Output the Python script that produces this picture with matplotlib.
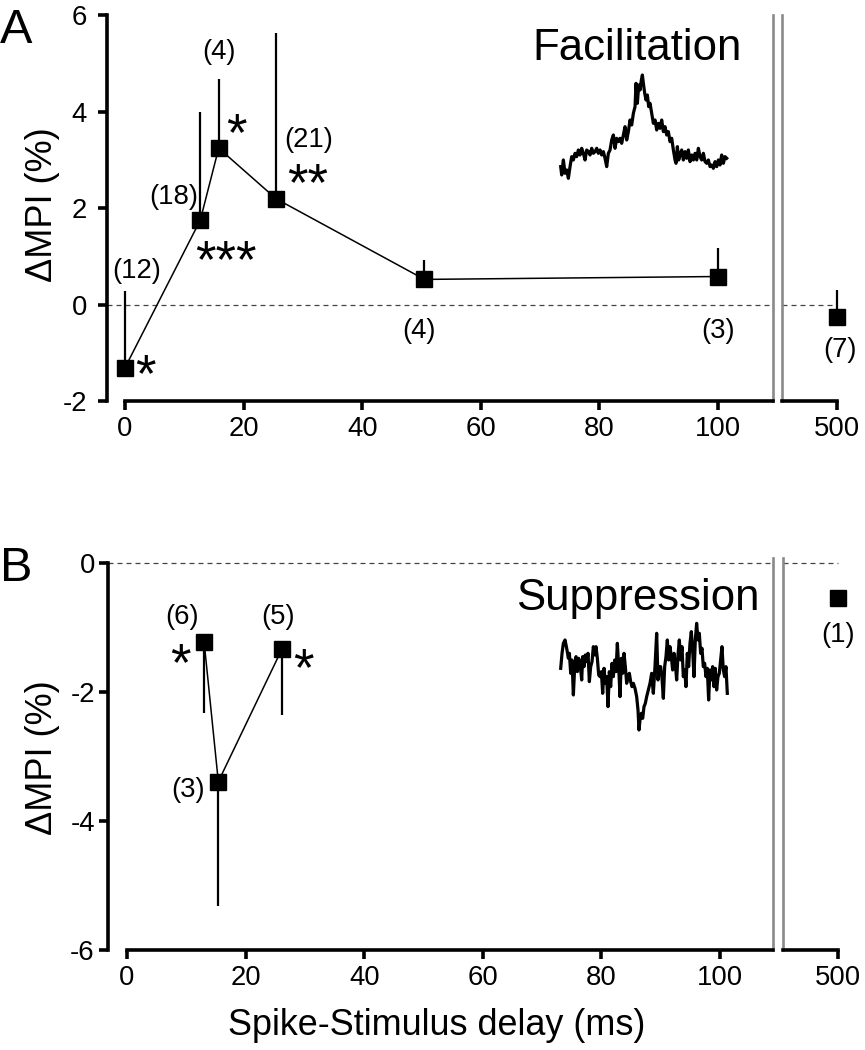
import matplotlib as mpl
import matplotlib.pyplot as plt
from matplotlib import font_manager

installed = {f.name for f in font_manager.fontManager.ttflist}
HAS_NARROW = "Liberation Sans Narrow" in installed
NARROW = "Liberation Sans Narrow" if HAS_NARROW else "Liberation Sans"
WIDE = "Liberation Sans"
# the reference uses a condensed Helvetica; without the narrow face shrink a bit
K = 1.0 if HAS_NARROW else 0.9

mpl.rcParams.update({
    "font.family": [NARROW, "DejaVu Sans"],
    "axes.spines.top": False,
    "axes.unicode_minus": False,
    "figure.facecolor": "white",
})

# --- data ---
# A: facilitation (dMPI %, mean + upper SEM)
fac_delay = [0, 12.7, 15.8, 25.5, 50.5, 100]
fac_mpi = [-1.31, 1.75, 3.24, 2.19, 0.52, 0.58]
fac_sem = [1.58, 2.23, 1.44, 3.44, 0.41, 0.59]
fac_n = [12, 18, 4, 21, 4, 3]
fac_sig = ["*", "***", "*", "**", "", ""]
fac_long_delay, fac_long_mpi, fac_long_sem, fac_long_n = 500, -0.25, 0.56, 7

# B: suppression (mean - lower SEM)
sup_delay = [13.0, 15.4, 26.1]
sup_mpi = [-1.22, -3.39, -1.34]
sup_sem = [1.11, 1.93, 1.02]
sup_n = [6, 3, 5]
sup_sig = ["*", "", "*"]
sup_long_delay, sup_long_mpi, sup_long_n = 500, -0.54, 1

# example cross-correlogram traces (arbitrary units)
fac_lag = [62, 65, 70, 75, 80, 85, 90, 95, 100] + list(range(105, 290, 5)) + \
    [288, 292, 296, 300, 304, 307, 310, 314, 318, 322, 326, 330] + list(range(335, 410, 5)) + \
    [408, 412, 416, 420] + list(range(425, 565, 5))
fac_trace = [80, 55, 100, 60, 70, 45, 80, 110, 100,
             120, 110, 130, 115, 135, 120, 100, 130, 125, 115, 135, 120, 125, 135, 120, 130, 115, 125, 105, 80,
             120, 130, 160, 175, 135, 165, 155, 165, 150, 175, 200, 160, 185, 220, 205, 240, 260,
             330, 270, 325, 310, 340, 355, 330, 300, 280, 295, 260, 270,
             240, 210, 220, 190, 210, 195, 220, 185, 200, 175, 185, 155, 165, 130, 100,
             90, 140, 100, 115,
             130, 100, 125, 105, 130, 95, 115, 100, 120, 100, 135, 110, 100, 120, 95, 90, 100, 80, 85, 75,
             95, 80, 100, 85, 115, 90, 110, 105]
sup_lag = [62, 66, 70, 75, 80, 85, 88, 92, 96, 100, 104, 108, 112, 116, 120, 125] + list(range(128, 284, 4)) + \
    [285, 290, 294, 297, 300, 304, 308, 312, 316, 320, 325, 330, 335, 340, 345, 350] + list(range(354, 566, 4))
sup_trace = [195, 240, 270, 280, 255, 225, 240, 180, 220, 115, 200, 230, 185, 225, 210,
             160, 230, 200, 235, 215, 240, 155, 200, 215, 260, 235, 260, 225, 175, 170, 185, 120, 195, 150, 170,
             80, 185, 140, 210, 170, 220, 185, 270, 200, 110, 225, 180, 240, 200, 150, 170, 180, 155, 140, 150,
             135, 110, 70, 10, 40, 60, 45, 80, 90, 110,
             130, 150, 180, 120, 200, 300,
             160, 200, 200, 165, 105, 200, 230, 280, 220, 260, 230, 190, 240, 210, 160, 235, 280, 220, 260, 170,
             190, 140, 240, 200, 270, 305, 250, 170, 280, 330, 280, 300, 240, 255, 200, 210, 170, 195, 100, 190,
             160, 200, 140, 195, 130, 170, 180, 220, 260, 190, 170, 200, 120]

# --- layout (pixels of the 865x1050 canvas) ---
W, H = 865, 1050
PXU = 5.93  # px per ms on the delay axis
TICK_FS = 22 * K
NOTE_FS = 22 * K


def px_rect(x0, y0, x1, y1):
    return [x0 / W, 1 - y1 / H, (x1 - x0) / W, (y1 - y0) / H]


def px_off(dx, dy):
    return dx * 72 / 100, dy * 72 / 100


fig = plt.figure(figsize=(W / 100, H / 100), dpi=100)


def make_axes(left, x0, gap_l, gap_r, top, bottom, ylim, yticks, ypad):
    ax = fig.add_axes(px_rect(left, top, gap_l, bottom))
    ax.set_xlim(-(x0 - left) / PXU, (gap_l - x0) / PXU)
    ax.set_ylim(*ylim)
    ax.spines["bottom"].set_bounds(0, (gap_l - x0) / PXU)
    ax.spines["left"].set_bounds(yticks[0], yticks[-1])
    ax.spines["bottom"].set_linewidth(2.6)
    ax.spines["left"].set_linewidth(2.6)
    ax.spines["right"].set_color("#8a8a8a")
    ax.spines["right"].set_linewidth(1.9)
    ax.set_xticks([0, 20, 40, 60, 80, 100])
    ax.set_yticks(yticks)
    ax.tick_params(width=2.6, length=6.5, labelsize=TICK_FS)
    ax.tick_params(axis="y", pad=ypad)
    ax.tick_params(axis="x", pad=4)
    ax.patch.set_alpha(0)

    # long-delay (500 ms) segment after the axis break
    axl = fig.add_axes(px_rect(gap_r, top, 850, bottom))
    t500 = gap_r + 55
    axl.set_xlim(500 - (t500 - gap_r) / PXU, 500 + (850 - t500) / PXU)
    axl.set_ylim(*ylim)
    axl.spines["right"].set_visible(False)
    axl.spines["bottom"].set_bounds(500 - (t500 - gap_r) / PXU, 500)
    axl.spines["bottom"].set_linewidth(2.6)
    axl.spines["left"].set_color("#8a8a8a")
    axl.spines["left"].set_linewidth(1.9)
    axl.set_yticks([])
    axl.set_xticks([500])
    axl.tick_params(width=2.6, length=6.5, labelsize=TICK_FS, pad=4)
    axl.patch.set_alpha(0)

    dash = dict(color="#444444", lw=0.9, dashes=(4, 3.2))
    ax.axhline(0, **dash)
    axl.plot([axl.get_xlim()[0], 500], [0, 0], **dash)
    return ax, axl


def note(ax, x, y, s, off, size=NOTE_FS, family=NARROW, va="center"):
    ax.annotate(s, (x, y), xytext=px_off(*off), textcoords="offset points",
                ha="center", va=va, fontsize=size, family=family, annotation_clip=False)


def squares(ax, x, y):
    ax.plot(x, y, "s", ms=11.5, color="black", zorder=4, clip_on=False)


def trace(rect, t, v):
    ia = fig.add_axes(rect)
    ia.plot(t, v, color="black", lw=2.3, clip_on=False)
    ia.set_xlim(min(t), max(t))
    ia.set_ylim(min(v), max(v))
    ia.axis("off")


# ---------------- Panel A ----------------
axA, axA2 = make_axes(107, 125, 773, 782, 15, 401, (-2, 6), [-2, 0, 2, 4, 6], 8)
axA.errorbar(fac_delay, fac_mpi, yerr=[[0] * len(fac_sem), fac_sem], fmt="none",
             ecolor="black", elinewidth=1.6, capsize=0, clip_on=False)
axA.plot(fac_delay, fac_mpi, "-", color="black", lw=1.1)
squares(axA, fac_delay, fac_mpi)
axA2.errorbar([fac_long_delay], [fac_long_mpi], yerr=[[0], [fac_long_sem]], fmt="none",
              ecolor="black", elinewidth=1.6, capsize=0, clip_on=False)
squares(axA2, [fac_long_delay], [fac_long_mpi])

n_off_A = [(12, 97), (-27, 23), (0, 96), (32, 59), (-5, -52), (0, -54)]
sig_off_A = [(20, 16), (26, -18), (18, 37), (31, 38), None, None]
for x, y, n, s, no, so in zip(fac_delay, fac_mpi, fac_n, fac_sig, n_off_A, sig_off_A):
    note(axA, x, y, f"({n})", no)
    if s:
        note(axA, x, y, s, so, size=38, family=WIDE, va="top")
note(axA2, fac_long_delay, fac_long_mpi, f"({fac_long_n})", (3, -33))

trace(px_rect(560.7, 75, 726.7, 178.3), fac_lag, fac_trace)
fig.text(637 / W, 1 - 60 / H, "Facilitation", ha="center", va="baseline", fontsize=35 * K)
fig.text(0, 1 - 43 / H, "A", ha="left", va="baseline", fontsize=35, family=WIDE)
fig.text(42 / W, 1 - 205 / H, "\u0394MPI (%)", rotation=90, ha="center", va="center",
         fontsize=26, family=WIDE)

# ---------------- Panel B ----------------
axB, axB2 = make_axes(108, 127, 773, 783, 558, 950, (-6, 5 / 64.5), [-6, -4, -2, 0], 3)
axB.errorbar(sup_delay, sup_mpi, yerr=[sup_sem, [0] * len(sup_sem)], fmt="none",
             ecolor="black", elinewidth=1.6, capsize=0, clip_on=False)
axB.plot(sup_delay, sup_mpi, "-", color="black", lw=1.1)
squares(axB, sup_delay, sup_mpi)
squares(axB2, [sup_long_delay], [sup_long_mpi])

n_off_B = [(-22, 25), (-30, -8), (-4, 32)]
sig_off_B = [(-24, 1), None, (22, 3)]
for x, y, n, s, no, so in zip(sup_delay, sup_mpi, sup_n, sup_sig, n_off_B, sig_off_B):
    note(axB, x, y, f"({n})", no)
    if s:
        note(axB, x, y, s, so, size=38, family=WIDE, va="top")
note(axB2, sup_long_delay, sup_long_mpi, f"({sup_long_n})", (0, -37))

trace(px_rect(560.7, 623.3, 727.3, 730), sup_lag, sup_trace)
fig.text(638 / W, 1 - 610 / H, "Suppression", ha="center", va="baseline", fontsize=35 * K)
fig.text(0, 1 - 581 / H, "B", ha="left", va="baseline", fontsize=35, family=WIDE)
fig.text(42 / W, 1 - 758 / H, "\u0394MPI (%)", rotation=90, ha="center", va="center",
         fontsize=26, family=WIDE)

fig.text(437 / W, 1 - 1035 / H, "Spike-Stimulus delay (ms)", ha="center", va="baseline",
         fontsize=29.5 * (0.88 if not HAS_NARROW else 1.0))

fig.savefig("out.png", dpi=100)
